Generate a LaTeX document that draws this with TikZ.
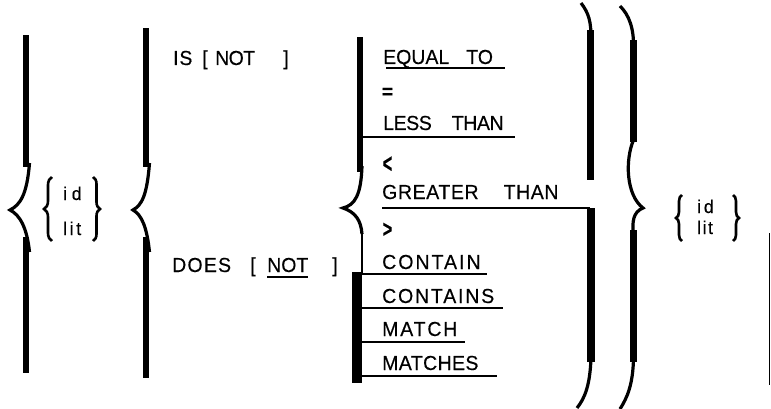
\documentclass[tikz,border=0pt]{standalone}
\usepackage{fontspec}
\usetikzlibrary{decorations.pathreplacing}
\newfontfamily\hv[FakeBold=0.35,FakeStretch=0.96]{Liberation Sans}
\newcommand\lsp[2]{{\addfontfeatures{LetterSpace=#1}#2}}
\tikzset{
  lbl/.style={anchor=base west, inner sep=0pt, font=\hv\fontsize{20.3}{23}\selectfont},
  sml/.style={anchor=base west, inner sep=0pt, font=\hv\fontsize{18.5}{20}\selectfont},
  sym/.style={anchor=center, inner sep=0pt, font=\hv\bfseries\fontsize{20}{22}\selectfont},
  ul/.style={line width=2.6pt},
  arm/.style={line width=3.2pt},
  thin/.style={line width=1.4pt},
  sbrace/.style={decorate, decoration={brace, amplitude=#1}, line width=2.6pt},
}
\begin{document}
\begin{tikzpicture}[x=1pt,y=-1pt]
\useasboundingbox (0,0) rectangle (771,409);
% ---------- left outer brace
\fill (23,35) rectangle (28.5,167);
\draw[arm] (29.5,163) .. controls (27,195) and (20,205) .. (10,210) .. controls (20,215) and (27,228) .. (29.5,252);
\fill (23,237) rectangle (28.5,373);
% inner {id lit}
\draw[sbrace=8pt] (52,241) -- (52,177);
\draw[sbrace=7pt] (93,177) -- (93,241);
\node[sml] (id1) at (63,200) {\lsp{25}{id}};
\node[sml] (lit1) at (63,235) {\lsp{14}{lit}};
% ---------- second brace
\fill (143,28) rectangle (148.5,167);
\draw[arm] (149.5,163) .. controls (147,195) and (142,205) .. (133,210) .. controls (142,215) and (147,228) .. (149.5,252);
\fill (143,237) rectangle (148.5,378);
% IS [ NOT ]
\node[lbl] (is) at (173,65) {\lsp{4}{IS}};
\node[lbl] (isl) at (202,65) {[};
\node[lbl] (isnot) at (215,65) {\lsp{-3}{NOT}};
\node[lbl] (isr) at (283,65) {]};
% DOES [ NOT ]
\node[lbl] (does) at (172,272) {\lsp{6}{DOES}};
\node[lbl] (dol) at (250,272) {[};
\node[lbl] (donot) at (267,272) {NOT};
\node[lbl] (dor) at (332,272) {]};
\draw[line width=2pt] (donot.base west) ++(0,5) -- ++(41,0);
% ---------- third brace
\fill (357,37) rectangle (363,172);
\draw[arm] (362,166) .. controls (361,195) and (355,205) .. (343,208) .. controls (355,212) and (361,220) .. (362,234);
\draw[thin] (362,232) -- (362,274);
\fill (352,272) rectangle (362,383);
% relations
\node[lbl] (eq) at (383,64) {EQUAL\hspace{17pt}TO};
\draw[ul] (386,68) -- (505,68);
\node[sym] (eqs) at (387.5,93) {=};
\node[lbl] (lt) at (383,130) {\lsp{-2}{LESS\hspace{20pt}THAN}};
\draw[ul] (362,137) -- (515,137);
\node[sym] (lts) at (387.5,164.5) {\scalebox{0.85}[1.35]{<}};
\node[lbl] (gt) at (382,199) {\lsp{3}{GREATER\hspace{25pt}THAN}};
\draw[ul] (382,208) -- (590,208);
\node[sym] (gts) at (387.5,230) {\scalebox{0.85}[1.2]{>}};
\node[lbl] (ct) at (382,269) {\lsp{10}{CONTAIN}};
\draw[ul] (360,274) -- (487,274);
\node[lbl] (cts) at (382,303) {\lsp{9}{CONTAINS}};
\draw[ul] (360,308) -- (503,308);
\node[lbl] (mt) at (382,336) {\lsp{9}{MATCH}};
\draw[ul] (360,342) -- (465,342);
\node[lbl] (mts) at (382,370) {\lsp{2}{MATCHES}};
\draw[ul] (360,376) -- (497,376);
% ---------- right brace A
\draw[arm] (581,3) .. controls (588,12) and (592,22) .. (590.5,40);
\fill (587,30) rectangle (594,180);
\fill (586.5,208) rectangle (594.5,362);
\draw[arm] (591,358) .. controls (590,385) and (585,398) .. (577,408);
% ---------- right brace B
\draw[arm] (620,6) .. controls (629,15) and (634,28) .. (633.5,48);
\fill (630,40) rectangle (637,142);
\draw[arm] (633.5,140) .. controls (625,160) and (626,195) .. (643,208) .. controls (633,212) and (632,222) .. (633.5,234);
\fill (630,230) rectangle (637,362);
\draw[arm] (633.5,358) .. controls (633,385) and (627,398) .. (620,409);
% right {id lit}
\draw[sbrace=6pt] (682,241) -- (682,195);
\draw[sbrace=6pt] (733,195) -- (733,241);
\node[sml] (id2) at (697,213) {\lsp{15}{id}};
\node[sml] (lit2) at (697,234) {\lsp{8}{lit}};
% thin rule at far right
\draw[thin] (769.5,233) -- (769.5,385);
\end{tikzpicture}
\end{document}
